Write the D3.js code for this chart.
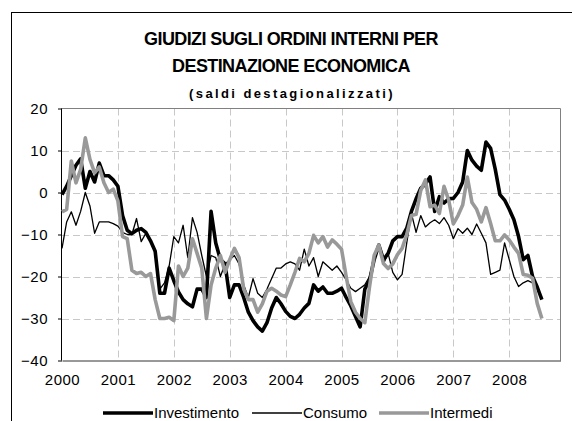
<!DOCTYPE html>
<html>
<head>
<meta charset="utf-8">
<script src="https://cdn.jsdelivr.net/npm/d3@7"></script>
<style>
  body { margin: 0; background: #fff; }
  svg { display: block; font-family: "Liberation Sans", Arial, sans-serif; }
</style>
</head>
<body>
<svg id="chart" width="572" height="421"></svg>
<script>
// monthly values, Jan 2000 .. Aug 2008
const yearLabels = ['2000', '2001', '2002', '2003', '2004', '2005', '2006', '2007', '2008'];
const yTicks = [-40, -30, -20, -10, 0, 10, 20];
const seriesNames = ['Investimento', 'Consumo', 'Intermedi'];

const investimento = [
  -0.5, 1.5, 4, 6.5, 8, 1, 5, 2.5, 7, 4, 4, 3,
  1.5, -5.5, -9, -9.8, -9, -8.6, -9.5, -11.5, -14, -24, -24, -18,
  -21, -23.7, -25.5, -26.5, -27.2, -23, -23, -25, -4.5, -12, -16, -17,
  -25, -22, -22, -25, -28.5, -30.5, -32, -33, -31, -27.5, -25, -26.5,
  -28.3, -29.5, -30, -29, -27.5, -26.4, -22, -23.5, -22.5, -24, -24, -23.5,
  -22.8, -25, -27, -29.5, -32, -23, -21, -16, -12.5, -16, -14.5, -11.5,
  -10.5, -10.5, -8.5, -4.5, -1.5, 1, 2, 3.7, -4.5, -1, -2.5, -1.5,
  -1.4, 0, 2.5, 10, 7.7, 6.3, 5.3, 12, 10.5, 5.5, -0.5, -1.8,
  -4, -6.5, -10.5, -16, -15, -20, -22.5, -25.5
];
const consumo = [
  -13.3, -7, -4.6, -7.8, -4.5, 0, -3.2, -9.7, -7, -7, -7, -7.4,
  -8, -9.5, -10, -10, -6.2, -11.7, -9.7, -11.3, -14.5, -23, -21.5, -17.5,
  -10.5, -12, -7.8, -15.5, -6, -9.5, -15, -20, -15, -15.5, -20, -17,
  -16, -15, -17, -22, -25, -20.5, -24, -25, -23, -20.5, -18, -18,
  -17, -16.5, -17, -18.5, -13.5, -17.5, -15.5, -20, -16.5, -17.5, -18.5, -17.5,
  -19, -20.8, -22.8, -23.6, -22.8, -22, -20, -15.5, -13, -17, -14.5, -19,
  -20.8, -19.5, -12, -5, -9.5, -5.5, -8.2, -7.2, -6.5, -7.4, -6, -7.8,
  -11, -8.6, -9.7, -8.5, -10, -7.5, -9.7, -12, -19.5, -19, -18.5, -12,
  -16, -20, -22.4, -21.5, -21, -21.5, -23, -25
];
const intermedi = [
  -4.6, -4, 7.5, 2.3, 5.5, 13, 7.9, 4.7, 6.1, 2.3, 0, 0.8,
  -2, -10.5, -11, -18.5, -19.3, -19, -20, -19.3, -25.5, -30, -30, -29.7,
  -30.5, -17.5, -20, -18, -11, -14.5, -18, -30, -22, -18, -15, -19,
  -16, -13.3, -15.5, -23, -25.5, -25.5, -28.5, -26.5, -23.5, -22.8, -23.5, -24.4,
  -24.8, -22, -19, -15.7, -16.5, -14.5, -10.2, -12, -10.5, -13, -11.3, -12.3,
  -13.5, -20, -26, -28.5, -30, -31, -22.5, -15, -12.5, -16.9, -18.1, -17,
  -14.8, -13.3, -10, -5.5, -5.2, 0.5, 3, -3.4, -3, -5, 1.5, -1.8,
  -7.5, -5.5, -3, 3.7, -2.4, -4, -7, -3.6, -7.4, -11.5, -11.5, -10.1,
  -11.3, -13, -14.5, -19.5, -19.7, -20.4, -26.4, -30
];

const svg = d3.select('#chart');
const plotLeft = 62, plotRight = 560.5, plotTop = 108.5, plotBottom = 360.5;
const monthCount = 12 * yearLabels.length; // axis runs to Dec 2008

const x = d3.scaleLinear().domain([0, monthCount - 1]).range([plotLeft, plotRight]);
const y = d3.scaleLinear().domain([-40, 20]).range([plotBottom, plotTop]);
const yearTicks = yearLabels.map((d, i) => i * 12);

// outer chart frame
svg.append('rect')
  .attr('x', 11.5).attr('y', 12.5)
  .attr('width', 600).attr('height', 450)
  .attr('fill', 'none').attr('stroke', '#000').attr('stroke-width', 1);

// titles
const title = svg.append('g').attr('text-anchor', 'middle').attr('fill', '#000');
title.append('text').attr('x', 291).attr('y', 45)
  .attr('font-size', 18).attr('font-weight', 'bold').attr('letter-spacing', -0.6)
  .text('GIUDIZI SUGLI ORDINI INTERNI PER');
title.append('text').attr('x', 291).attr('y', 72)
  .attr('font-size', 18).attr('font-weight', 'bold').attr('letter-spacing', -0.6)
  .text('DESTINAZIONE ECONOMICA');
title.append('text').attr('x', 292).attr('y', 98)
  .attr('font-size', 13).attr('font-weight', 'bold').attr('letter-spacing', 2.4)
  .text('(saldi destagionalizzati)');

// gridlines
const grid = svg.append('g')
  .attr('stroke', '#c8c8c8').attr('stroke-width', 1).attr('stroke-dasharray', '7,4');
grid.selectAll('.vgrid').data(yearTicks.slice(1)).enter().append('line')
  .attr('class', 'vgrid')
  .attr('x1', d => Math.round(x(d)) + 0.5).attr('x2', d => Math.round(x(d)) + 0.5)
  .attr('y1', plotTop).attr('y2', plotBottom);
grid.selectAll('.hgrid').data(yTicks.slice(1, -1)).enter().append('line')
  .attr('class', 'hgrid')
  .attr('x1', plotLeft).attr('x2', plotRight)
  .attr('y1', d => Math.round(y(d)) + 0.5).attr('y2', d => Math.round(y(d)) + 0.5);

// plot border (top / right)
svg.append('path')
  .attr('d', `M${plotLeft},${plotTop}H${plotRight}V${plotBottom}`)
  .attr('fill', 'none').attr('stroke', '#808080');

// axes
const yAxis = svg.append('g')
  .attr('transform', `translate(${plotLeft},0)`)
  .call(d3.axisLeft(y).tickValues(yTicks).tickSize(4).tickPadding(10).tickFormat(d3.format('d')));
yAxis.select('.domain').attr('stroke', '#000').attr('d', `M-0.5,${plotTop}V${plotBottom}`);
yAxis.selectAll('text').attr('font-size', 15).attr('font-family', '"Liberation Sans", Arial, sans-serif')
  .attr('fill', '#000').attr('letter-spacing', 0.5);

const xAxis = svg.append('g')
  .attr('transform', `translate(0,${plotBottom})`)
  .call(d3.axisBottom(x).tickValues(yearTicks).tickSize(0).tickPadding(14)
    .tickFormat((d, i) => yearLabels[i]));
xAxis.select('.domain').attr('stroke', '#333');
xAxis.selectAll('text').attr('font-size', 15).attr('font-family', '"Liberation Sans", Arial, sans-serif')
  .attr('fill', '#000').attr('letter-spacing', 0.5);

// series lines
const line = d3.line().x((d, i) => x(i)).y(d => y(d));
const series = [
  { name: seriesNames[0], values: investimento, color: '#000', width: 3.6 },
  { name: seriesNames[1], values: consumo, color: '#000', width: 1.3 },
  { name: seriesNames[2], values: intermedi, color: '#999', width: 3.6 }
];
svg.append('g').selectAll('path').data(series).enter().append('path')
  .attr('d', d => line(d.values))
  .attr('fill', 'none')
  .attr('stroke', d => d.color)
  .attr('stroke-width', d => d.width)
  .attr('stroke-linejoin', 'round');

// legend
const legendX = [103, 252, 379];
const legend = svg.append('g').attr('transform', 'translate(0,413)');
const items = legend.selectAll('g').data(series).enter().append('g')
  .attr('transform', (d, i) => `translate(${legendX[i]},0)`);
items.append('line')
  .attr('x1', 0).attr('x2', 50)
  .attr('stroke', d => d.color).attr('stroke-width', d => d.width);
items.append('text')
  .attr('x', 51).attr('dy', '0.35em')
  .attr('font-size', 15)
  .text(d => d.name);
</script>
</body>
</html>
